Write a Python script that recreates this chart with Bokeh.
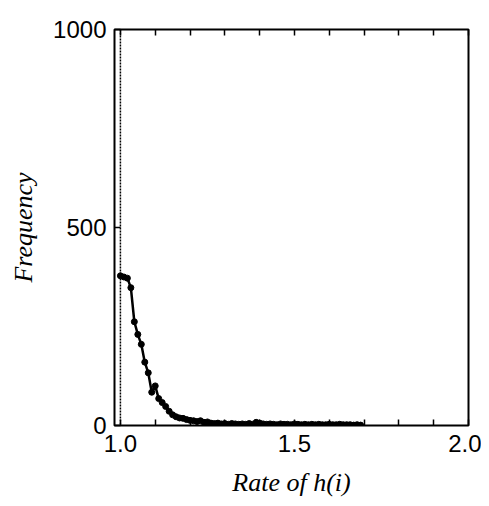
from bokeh.plotting import figure
from bokeh.models import Span, FixedTicker, LinearAxis, Range1d, NumeralTickFormatter
from bokeh.embed import file_html
from bokeh.resources import INLINE

rate = [1.00, 1.01, 1.02, 1.03, 1.04, 1.05, 1.06, 1.07, 1.08, 1.09,
        1.10, 1.11, 1.12, 1.13, 1.14, 1.15, 1.16, 1.17, 1.18, 1.19,
        1.20, 1.21, 1.22, 1.23, 1.24, 1.25, 1.26, 1.27, 1.28, 1.29,
        1.30, 1.31, 1.32, 1.33, 1.34, 1.35, 1.36, 1.37, 1.38, 1.39,
        1.40, 1.41, 1.42, 1.43, 1.44, 1.45, 1.46, 1.47, 1.48, 1.49,
        1.50, 1.51, 1.52, 1.53, 1.54, 1.55, 1.56, 1.57, 1.58, 1.59,
        1.60, 1.61, 1.62, 1.63, 1.64, 1.65, 1.66, 1.67, 1.68, 1.69]
frequency = [378, 375, 372, 348, 262, 230, 205, 160, 133, 84,
             100, 68, 58, 48, 36, 27, 22, 19, 18, 15,
             13, 12, 10, 12, 8, 9, 6, 5, 6, 4,
             5, 3, 5, 4, 3, 4, 3, 5, 3, 8,
             6, 4, 3, 4, 3, 2, 4, 3, 3, 2,
             4, 3, 2, 3, 2, 3, 2, 3, 2, 2,
             3, 2, 2, 3, 2, 2, 2, 1, 2, 1]

x_major = [1.0, 1.5, 2.0]
x_minor = [1.1, 1.2, 1.3, 1.4, 1.6, 1.7, 1.8, 1.9]
y_major = [0, 500, 1000]
reference_rate = 1.0

p = figure(width=481, height=506, output_backend="svg", toolbar_location=None,
           x_range=Range1d(0.983, 2.0), y_range=Range1d(0, 1000),
           min_border_left=114, min_border_right=13, min_border_top=29,
           min_border_bottom=81, x_axis_location=None, y_axis_location=None)
p.grid.visible = False
p.outline_line_color = "black"
p.outline_line_width = 2
p.background_fill_color = "white"
p.border_fill_color = "white"

tick_font = "Liberation Sans"
label_font = "Liberation Serif"

xb = LinearAxis(ticker=FixedTicker(ticks=x_major, minor_ticks=x_minor),
                formatter=NumeralTickFormatter(format="0.0"))
xb.axis_label = "Rate of h(i)"
xt = LinearAxis(ticker=FixedTicker(ticks=x_major, minor_ticks=x_minor))
yl = LinearAxis(ticker=FixedTicker(ticks=y_major))
yl.axis_label = "Frequency"

for ax in (xb, xt, yl):
    ax.axis_line_color = None
    ax.major_tick_in = 6
    ax.major_tick_out = 0
    ax.minor_tick_in = 6
    ax.minor_tick_out = 0
    ax.major_tick_line_color = "black"
    ax.major_tick_line_width = 1.5
    ax.minor_tick_line_color = "black"
    ax.minor_tick_line_width = 1.5
    ax.major_label_text_font = tick_font
    ax.major_label_text_font_size = "24px"
    ax.major_label_text_color = "black"
    ax.axis_label_text_font = label_font
    ax.axis_label_text_font_style = "italic"
    ax.axis_label_text_font_size = "26px"
    ax.axis_label_text_color = "black"

xb.major_label_standoff = 9
xb.axis_label_standoff = 13
yl.major_label_standoff = 8
yl.axis_label_standoff = 12
yl.minor_tick_line_color = None
xt.major_label_text_color = None
xt.major_label_standoff = 0

p.add_layout(xb, "below")
p.add_layout(xt, "above")
p.add_layout(yl, "left")

p.add_layout(Span(location=reference_rate, dimension="height", line_color="black",
                  line_dash="2 1", line_width=1.5))

p.line(rate, frequency, line_color="black", line_width=2.5)
p.scatter(rate, frequency, size=6, fill_color="black", line_color="black")

open("out.html", "w").write(file_html(p, INLINE))
